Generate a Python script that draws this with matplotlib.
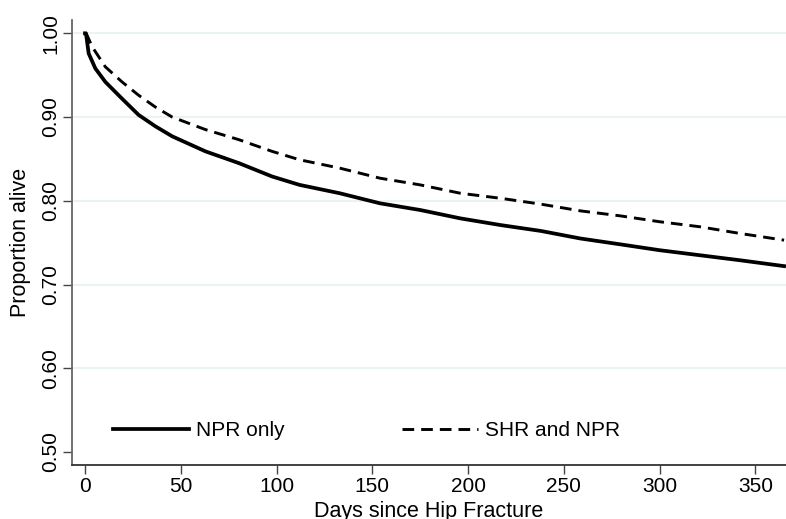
import matplotlib
matplotlib.use('Agg')
import matplotlib.pyplot as plt

plt.rcParams['font.family'] = ['Liberation Sans', 'DejaVu Sans']

# survival curves
days_npr = [0, 0.5, 1.9, 5.4, 10.6, 19.3, 28, 36.7, 45.5, 62.9, 80.3, 97.7, 112, 133, 154, 175, 196, 217, 238, 258.6, 279.5, 300, 321, 342, 365]
surv_npr = [1.00, 1.00, 0.976, 0.958, 0.942, 0.922, 0.9025, 0.889, 0.877, 0.859, 0.845, 0.829, 0.819, 0.809, 0.797, 0.789, 0.779, 0.771, 0.764, 0.755, 0.748, 0.741, 0.735, 0.729, 0.722]

days_shr = [0, 1, 3.7, 10.6, 19.3, 28, 36.7, 45.5, 62.9, 80.3, 97.7, 112, 133, 154, 175, 196, 217, 238, 258.6, 279.5, 300, 321, 342, 365]
surv_shr = [1.00, 0.998, 0.984, 0.960, 0.942, 0.926, 0.912, 0.900, 0.885, 0.873, 0.859, 0.849, 0.839, 0.827, 0.819, 0.809, 0.803, 0.796, 0.788, 0.782, 0.775, 0.769, 0.761, 0.753]

yticks = [0.50, 0.60, 0.70, 0.80, 0.90, 1.00]
xticks = [0, 50, 100, 150, 200, 250, 300, 350]

fig = plt.figure(figsize=(7.86, 5.19), dpi=100)
ax = fig.add_axes([0.0916, 0.104, 0.9084, 0.8575])

for y in yticks[1:]:
    ax.axhline(y, color='#eaf2f3', lw=1.5, zorder=0)

ax.plot(days_npr, surv_npr, color='black', lw=2.7, label='NPR only')
ax.plot(days_shr, surv_shr, color='black', lw=2.1, dashes=(4.0, 2.4), label='SHR and NPR')

ax.set_xlim(-6.8, 366)
ax.set_ylim(0.4845, 1.0159)
ax.set_xticks(xticks)
ax.set_yticks(yticks)
ax.set_yticklabels(['%.2f' % v for v in yticks], rotation=90, va='center')
ax.tick_params(axis='both', labelsize=15, length=6.5, width=1, color='#444444')
ax.tick_params(axis='x', pad=2)
ax.tick_params(axis='y', pad=2)

for s in ['top', 'right']:
    ax.spines[s].set_visible(False)
ax.spines['left'].set_color('#666666')
ax.spines['bottom'].set_color('#333333')
ax.spines['left'].set_linewidth(1.3)
ax.spines['bottom'].set_linewidth(1.3)

ax.set_ylabel('Proportion alive', fontsize=15.5, labelpad=7)
ax.set_xlabel('Days since Hip Fracture', fontsize=15.5, labelpad=4)

ax.legend(ncol=2, frameon=False, fontsize=15, handlelength=3.65, handletextpad=0.34,
          columnspacing=5.65, loc='center left', bbox_to_anchor=(0.031, 0.078))

fig.savefig('out.png', dpi=100)
